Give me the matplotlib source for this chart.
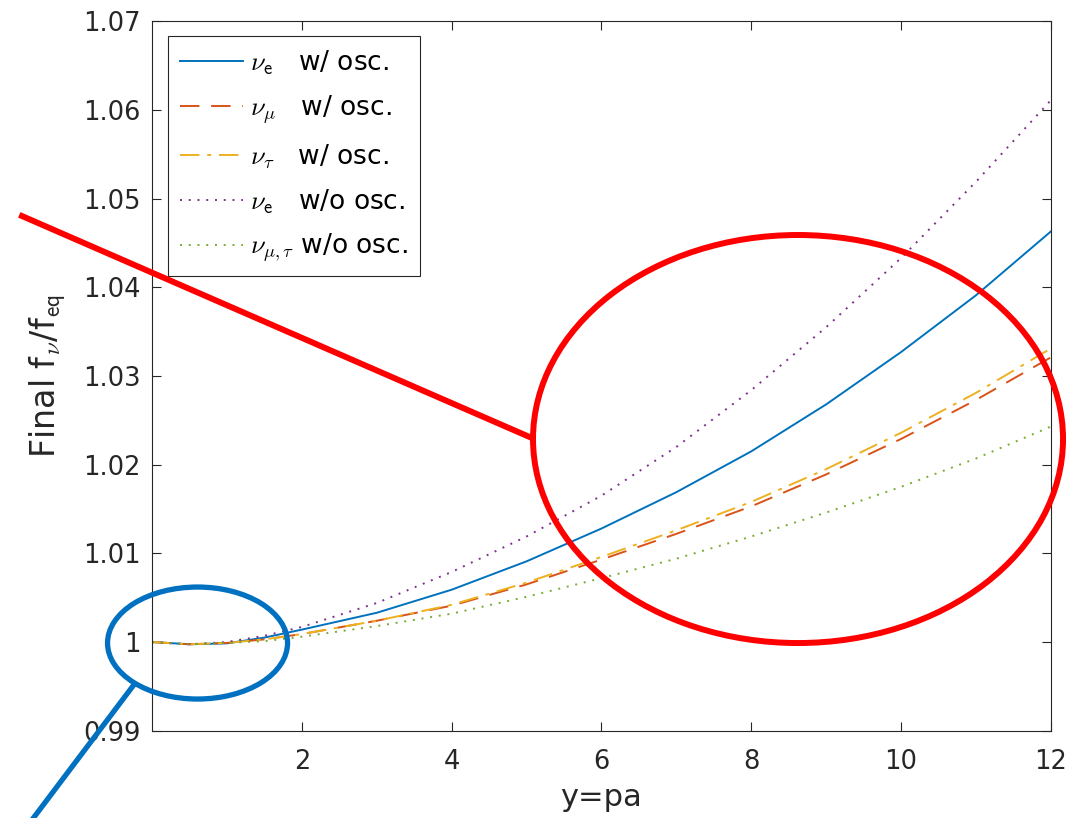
import matplotlib as mpl
mpl.use('Agg')
import matplotlib.pyplot as plt
from matplotlib.patches import Ellipse
from matplotlib.lines import Line2D
from matplotlib.ticker import FuncFormatter

plt.rcParams['mathtext.fontset'] = 'cm'
plt.rcParams['font.family'] = ['DejaVu Sans']

# y = pa
y_pa = [0, 0.5, 1, 1.5, 2, 3, 4, 5, 6, 7, 8, 9, 10, 11, 12]

nue_osc = [1.0000, 0.99975, 0.99985, 1.0005, 1.0014, 1.0033, 1.0059, 1.0091,
           1.0128, 1.0169, 1.0215, 1.0268, 1.0327, 1.0391, 1.0463]
numu_osc = [1.0000, 0.99975, 0.9999, 1.0003, 1.0009, 1.0024, 1.0041, 1.0065,
            1.0093, 1.0122, 1.0153, 1.0189, 1.0229, 1.0273, 1.0321]
nutau_osc = [1.0000, 0.99975, 0.9999, 1.0003, 1.0009, 1.0024, 1.0042, 1.0067,
             1.0096, 1.0126, 1.0158, 1.0195, 1.0236, 1.0281, 1.0331]
nue_noosc = [1.0000, 0.99975, 1.0000, 1.0007, 1.0017, 1.0044, 1.0079, 1.0119,
             1.0165, 1.0220, 1.0284, 1.0355, 1.0433, 1.0519, 1.0611]
numutau_noosc = [1.0000, 0.99975, 0.9999, 1.0001, 1.0006, 1.0018, 1.0032, 1.0051,
                 1.0072, 1.0094, 1.0119, 1.0146, 1.0175, 1.0207, 1.0243]

labels = [r'$\nu_{\mathsf{e}}$   w/ osc.',
          r'$\nu_{\mu}$   w/ osc.',
          r'$\nu_{\tau}$   w/ osc.',
          r'$\nu_{\mathsf{e}}$   w/o osc.',
          r'$\nu_{\mu,\tau}$ w/o osc.']

fig = plt.figure(figsize=(10.89, 8.18), dpi=100)
ax = fig.add_axes([0.1396, 0.1067, 0.8254, 0.8673])

lw = 1.4
ax.plot(y_pa, nue_osc, color='#0072BD', lw=lw, ls='-', label=labels[0])
ax.plot(y_pa, numu_osc, color='#D95319', lw=lw, dashes=(10, 6), label=labels[1])
ax.plot(y_pa, nutau_osc, color='#EDB120', lw=lw, dashes=(10, 4, 2, 4), label=labels[2])
ax.plot(y_pa, nue_noosc, color='#7E2F8E', lw=lw, dashes=(1, 3.5), label=labels[3])
ax.plot(y_pa, numutau_noosc, color='#77AC30', lw=lw, dashes=(1, 3.5), label=labels[4])

ax.set_xlim(0, 12)
ax.set_ylim(0.99, 1.07)
ax.set_xticks([2, 4, 6, 8, 10, 12])
ax.set_yticks([0.99, 1.0, 1.01, 1.02, 1.03, 1.04, 1.05, 1.06, 1.07])
ax.yaxis.set_major_formatter(FuncFormatter(lambda v, p: '%g' % round(v, 2)))
ax.tick_params(direction='in', top=True, right=True, length=6.5, width=0.8,
               labelsize=18.5, colors='#262626', pad=8)
ax.tick_params(axis='x', pad=13)
for s in ax.spines.values():
    s.set_color('#262626')
    s.set_linewidth(0.8)

ax.set_xlabel('y=pa', fontsize=22, color='#262626', labelpad=6)
ax.set_ylabel(r'Final f$_{\nu}$/f$_{\mathsf{eq}}$', fontsize=24, color='#262626', labelpad=10)

leg = ax.legend(loc='upper left', bbox_to_anchor=(0.018, 0.979), fontsize=19,
                frameon=True, fancybox=False, framealpha=1, edgecolor='#262626',
                handlelength=2.4, handletextpad=0.25, labelspacing=0.62,
                borderpad=0.45, borderaxespad=0)
leg.get_frame().set_linewidth(0.8)

# highlight marks drawn over the figure
fig.add_artist(Ellipse((0.7328, 0.4633), 0.4867, 0.4988, transform=fig.transFigure,
                       fill=False, edgecolor='#FF0000', lw=4.3, clip_on=False))
fig.add_artist(Line2D([0.0202, 0.4885], [0.7359, 0.4645], transform=fig.transFigure,
                      color='#FF0000', lw=4.3))
fig.add_artist(Ellipse((0.1814, 0.2139), 0.1653, 0.1369, transform=fig.transFigure,
                       fill=False, edgecolor='#0070C0', lw=3.8, clip_on=False))
fig.add_artist(Line2D([0.1221, 0.0250], [0.1614, -0.01], transform=fig.transFigure,
                      color='#0070C0', lw=3.8))

fig.savefig('out.png', dpi=100)
